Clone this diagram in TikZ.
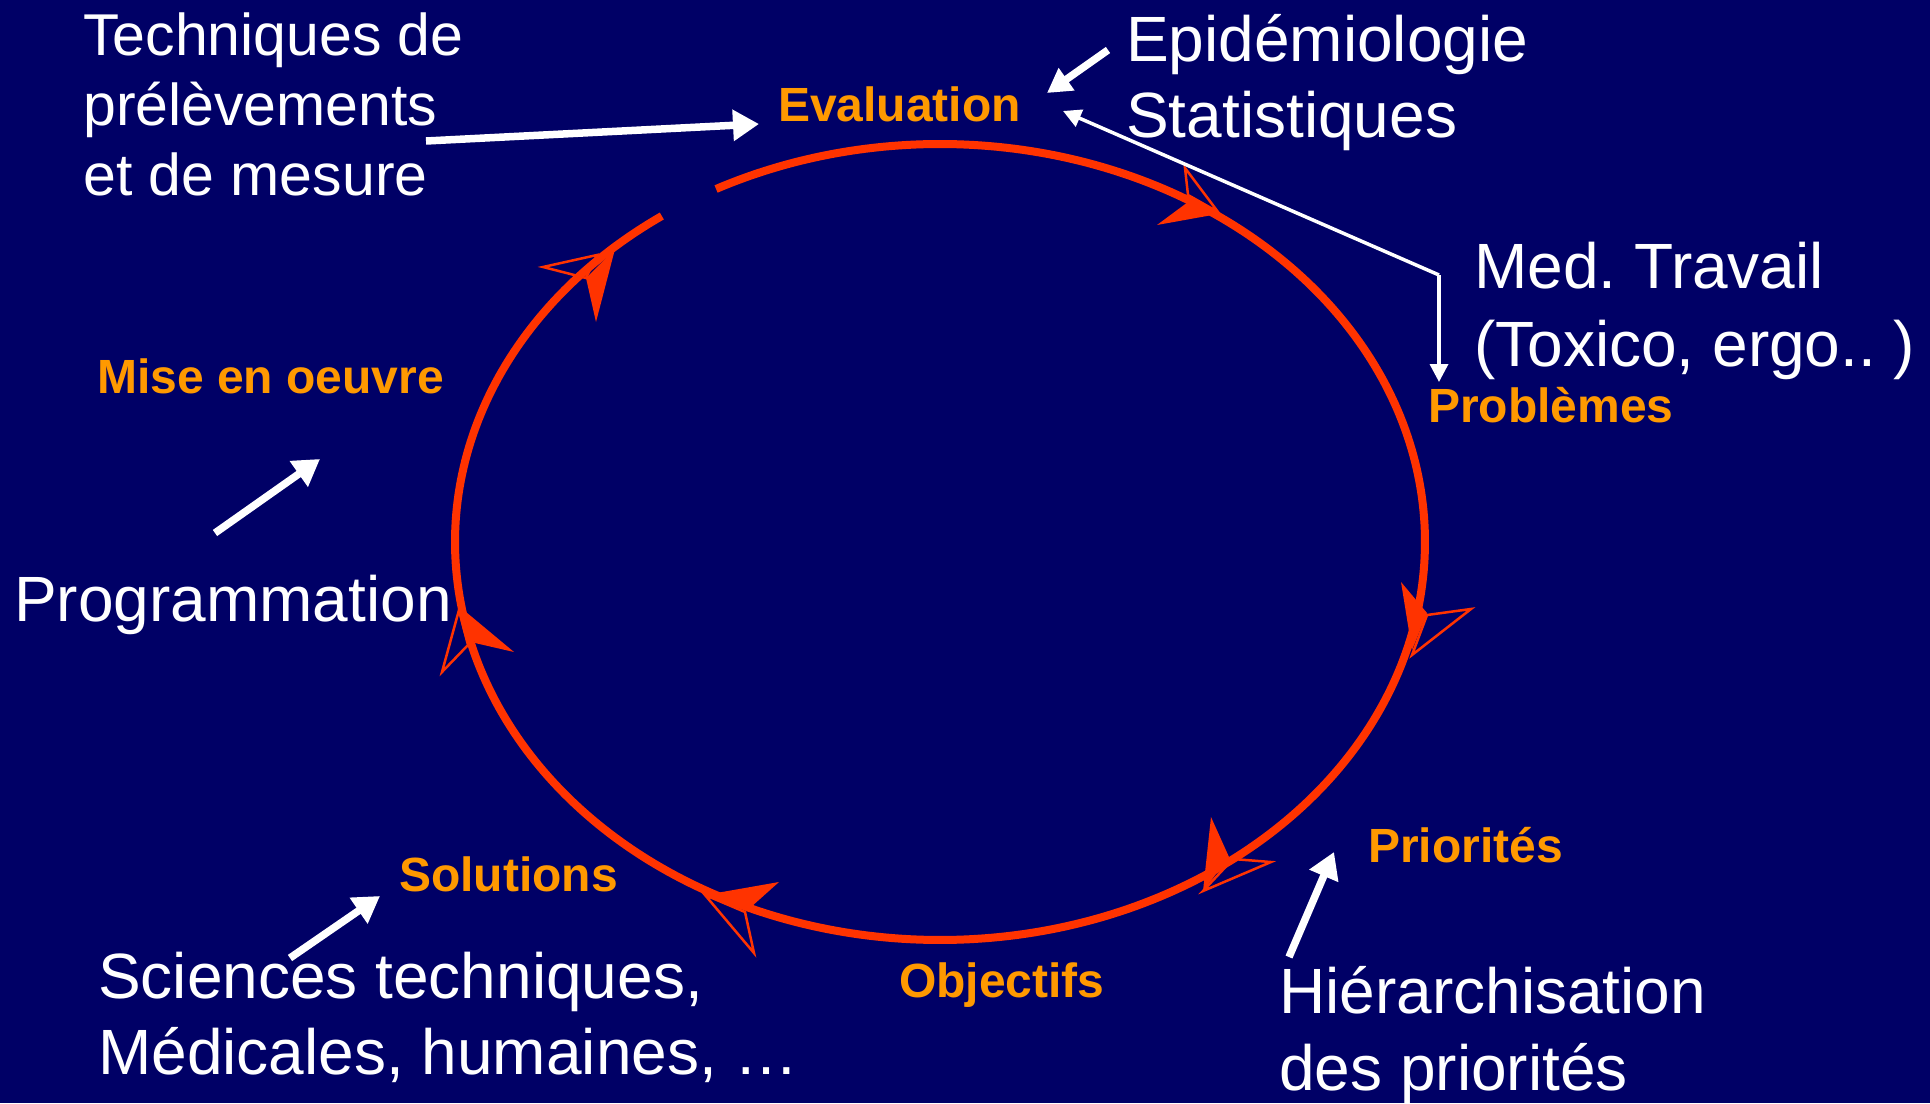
\documentclass[tikz,border=0pt]{standalone}
\usepackage{fontspec}
\setmainfont{Liberation Sans}
\usetikzlibrary{arrows.meta}
\definecolor{bgnavy}{HTML}{000066}
\definecolor{cycred}{HTML}{FF3300}
\definecolor{lblorange}{HTML}{FF9900}
\frenchspacing
\begin{document}
\begin{tikzpicture}[x=1pt,y=-1pt,
  whitetxt/.style={text=white, inner sep=0pt, anchor=base west, font=\fontsize{64}{76}\selectfont},
  smalltxt/.style={text=white, inner sep=0pt, anchor=base west, font=\fontsize{59}{70}\selectfont},
  lbl/.style={text=lblorange, inner sep=0pt, anchor=base west, font=\bfseries\fontsize{48}{56}\selectfont},
  bigarrow/.style={draw=white, line width=7.5pt, -{Triangle[length=26pt,width=30pt]}},
  thinarrow/.style={draw=white, line width=3.5pt, -{Triangle[length=18pt,width=18pt]}},
  cycleline/.style={draw=cycred, line width=8pt},
  headfill/.style={fill=cycred},
  headline/.style={draw=cycred, line width=2.5pt, line join=miter}
]
\fill[bgnavy] (0,0) rectangle (1930,1103);
\useasboundingbox (0,0) rectangle (1930,1103);

% cycle
\draw[cycleline] plot[variable=\t, domain=-117.5:235, samples=360] ({940+485*cos(\t)},{542+398*sin(\t)});

% arrowheads on the cycle
\fill[headfill] (615,249) -- (586,278) -- (596,322) -- cycle;
\draw[headline] (543,267) -- (597,255) -- (586,278) -- cycle;

\fill[headfill] (1157,225) -- (1188,202) -- (1218,214) -- cycle;
\draw[headline] (1185,168) -- (1188,195) -- (1218,212) -- cycle;

\fill[headfill] (1401,582) -- (1427,613) -- (1412,650) -- cycle;
\draw[headline] (1427,615) -- (1471,609) -- (1412,655) -- cycle;

\fill[headfill] (1211,817) -- (1229,857) -- (1203,891) -- cycle;
\draw[headline] (1233,859) -- (1271,862) -- (1203,891) -- cycle;

\fill[headfill] (705,895) -- (779,882) -- (751,907) -- cycle;
\draw[headline] (705,895) -- (745,912) -- (754,953) -- cycle;

\fill[headfill] (460,607) -- (514,652) -- (475,643) -- cycle;
\draw[headline] (459,610) -- (468,645) -- (442,672) -- cycle;

% orange stage labels
\node[lbl] (evaluation) at (778,121) {Evaluation};
\node[lbl] (problemes) at (1428,422) {Problèmes};
\node[lbl] (priorites) at (1368,862) {Priorités};
\node[lbl] (objectifs) at (899,997) {Objectifs};
\node[lbl] (solutions) at (399,891) {Solutions};
\node[lbl] (miseenoeuvre) at (97,393) {Mise en oeuvre};

% white texts
\node[smalltxt] (tech1) at (83,55) {Techniques de};
\node[smalltxt] (tech2) at (83,125) {prélèvements};
\node[smalltxt] (tech3) at (83,195) {et de mesure};

\node[whitetxt] (epi) at (1126,61) {Epidémiologie};
\node[whitetxt] (stat) at (1126,137) {Statistiques};

\node[whitetxt] (med1) at (1474,288) {Med. Travail};
\node[whitetxt] (med2) at (1474,366) {(Toxico, ergo.. )};

\node[whitetxt] (prog) at (14,621) {Programmation};

\node[whitetxt] (sci1) at (98,998) {Sciences techniques,};
\node[whitetxt] (sci2) at (98,1074) {Médicales, humaines, …};

\node[whitetxt] (hier1) at (1279,1013) {Hiérarchisation};
\node[whitetxt] (hier2) at (1279,1090) {des priorités};

% connector end points
\coordinate (techStart) at (426,141);
\coordinate (evalIn) at (759,124);
\coordinate (epiStart) at (1108,50);
\coordinate (evalIn2) at (1047,93);
\coordinate (medCorner) at (1439,275);
\coordinate (evalIn3) at (1063,111);
\coordinate (probIn) at (1439,382);
\coordinate (progStart) at (215,533);
\coordinate (miseIn) at (320,459);
\coordinate (sciStart) at (290,958);
\coordinate (solIn) at (380,896);
\coordinate (hierStart) at (1289,957);
\coordinate (prioIn) at (1334,852);

% connectors
\draw[bigarrow] (techStart) -- (evalIn);
\draw[bigarrow, -{Triangle[length=24pt,width=26pt]}] (epiStart) -- (evalIn2);
\draw[thinarrow] (medCorner) -- (evalIn3);
\draw[thinarrow] (medCorner) -- (probIn);
\draw[bigarrow] (progStart) -- (miseIn);
\draw[bigarrow] (sciStart) -- (solIn);
\draw[bigarrow] (hierStart) -- (prioIn);
\end{tikzpicture}
\end{document}
